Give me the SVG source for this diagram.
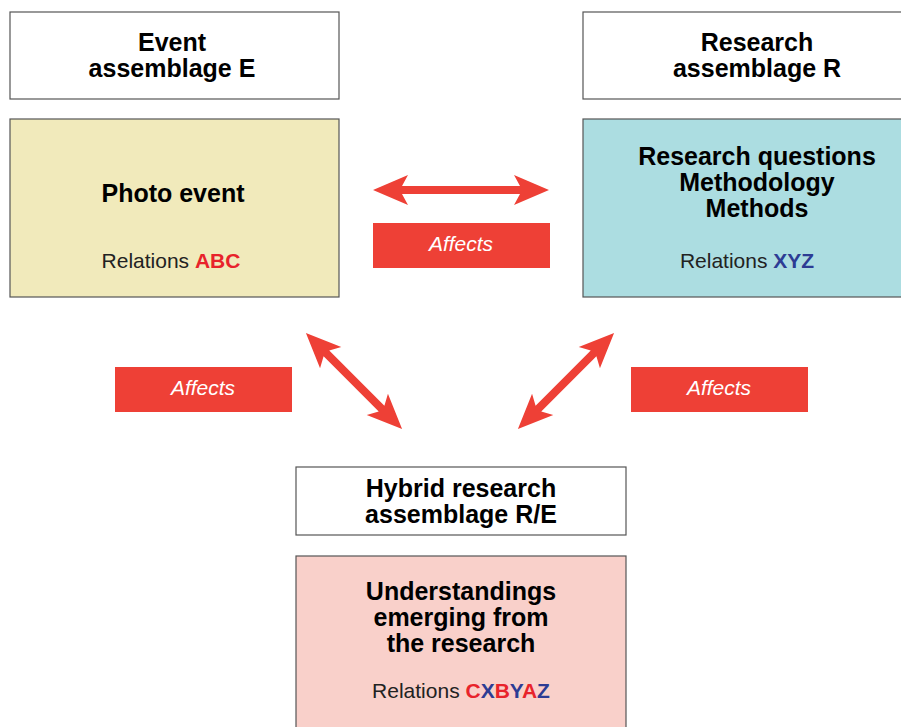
<svg xmlns="http://www.w3.org/2000/svg" width="901" height="727" viewBox="0 0 901 727">
<style>
.box{stroke:#555;stroke-width:1.2}
.t{font-family:"Liberation Sans",Arial,sans-serif;font-weight:bold;font-size:25px;fill:#000;text-anchor:middle}
.r{font-family:"Liberation Sans",Arial,sans-serif;font-size:21px;fill:#222;text-anchor:middle}
.red{fill:#e8232b;font-weight:bold}
.blue{fill:#2d3c94;font-weight:bold}
.af{font-family:"Liberation Sans",Arial,sans-serif;font-style:italic;font-size:21px;fill:#fff;text-anchor:middle}
.lab{fill:#ee4036}
.arr{fill:#ee4036}
</style>
<rect width="901" height="727" fill="#fff"/>
<g id="event">
<rect class="box" x="10" y="12" width="329" height="87" fill="#fff"/>
<text class="t" x="172" y="51">Event</text>
<text class="t" x="172" y="77">assemblage E</text>
</g>
<g id="photo">
<rect class="box" x="10" y="119" width="329" height="178" fill="#f1eabb"/>
<text class="t" x="173" y="202">Photo event</text>
<text class="r" x="171" y="268">Relations <tspan class="red">ABC</tspan></text>
</g>
<g id="research">
<rect class="box" x="583" y="12" width="340" height="87" fill="#fff"/>
<text class="t" x="757" y="51">Research</text>
<text class="t" x="757" y="77">assemblage R</text>
</g>
<g id="questions">
<rect class="box" x="583" y="119" width="340" height="178" fill="#acdde1"/>
<text class="t" x="757" y="165">Research questions</text>
<text class="t" x="757" y="191">Methodology</text>
<text class="t" x="757" y="217">Methods</text>
<text class="r" x="747" y="268">Relations <tspan class="blue">XYZ</tspan></text>
</g>
<g id="hybrid">
<rect class="box" x="296" y="467" width="330" height="68" fill="#fff"/>
<text class="t" x="461" y="497">Hybrid research</text>
<text class="t" x="461" y="523">assemblage R/E</text>
</g>
<g id="understandings">
<rect class="box" x="296" y="556" width="330" height="190" fill="#f9d0ca"/>
<text class="t" x="461" y="600">Understandings</text>
<text class="t" x="461" y="626">emerging from</text>
<text class="t" x="461" y="652">the research</text>
<text class="r" x="461" y="698">Relations <tspan class="red">C</tspan><tspan class="blue">X</tspan><tspan class="red">B</tspan><tspan class="blue">Y</tspan><tspan class="red">A</tspan><tspan class="blue">Z</tspan></text>
</g>
<g id="connectors">
<polygon class="arr" transform="translate(461,190)" points="-88,0 -53,-15 -59,-4 59,-4 53,-15 88,0 53,15 59,4 -59,4 -53,15"/>
<polygon class="arr" transform="translate(354,381) rotate(45)" points="-68,0 -33,-15 -39,-4 39,-4 33,-15 68,0 33,15 39,4 -39,4 -33,15"/>
<polygon class="arr" transform="translate(566,381) rotate(-45)" points="-68,0 -33,-15 -39,-4 39,-4 33,-15 68,0 33,15 39,4 -39,4 -33,15"/>
<g id="label-top">
<rect class="lab" x="373" y="223" width="177" height="45"/>
<text class="af" x="461" y="251">Affects</text>
</g>
<g id="label-left">
<rect class="lab" x="115" y="367" width="177" height="45"/>
<text class="af" x="203" y="395">Affects</text>
</g>
<g id="label-right">
<rect class="lab" x="631" y="367" width="177" height="45"/>
<text class="af" x="719" y="395">Affects</text>
</g>
</g>
</svg>
